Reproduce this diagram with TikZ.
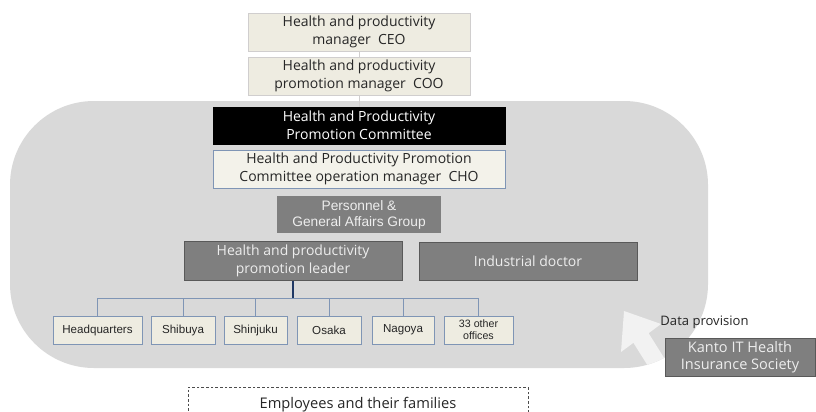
\documentclass[tikz,border=0pt]{standalone}
\usepackage{fontspec}
\setmainfont{Open Sans}
\newfontfamily\arialf{Liberation Sans}
\definecolor{beige}{HTML}{EEECE1}
\definecolor{beigeline}{HTML}{D0CECE}
\definecolor{regiongray}{HTML}{D9D9D9}
\definecolor{boxgray}{HTML}{7F7F7F}
\definecolor{boxgrayline}{HTML}{595959}
\definecolor{bluegray}{HTML}{7F95B5}
\definecolor{navyline}{HTML}{1F3864}
\definecolor{lighttext}{HTML}{EDEDED}
\definecolor{arrowfill}{HTML}{F2F2F2}
\tikzset{
  every node/.style={inner sep=0pt, align=center},
  beigebox/.style={draw=beigeline, fill=beige, line width=0.75pt,
    font=\fontsize{10.5}{13.5}\selectfont, text=black!85},
  blackbox/.style={draw=black, fill=black, text=white,
    font=\fontsize{10.5}{13.5}\selectfont},
  chobox/.style={draw=bluegray, fill=beige!70!white, line width=0.75pt,
    font=\fontsize{10.5}{13.5}\selectfont, text=black!85},
  graybox/.style={draw=boxgrayline, fill=boxgray, line width=0.75pt,
    text=lighttext, font=\fontsize{10.5}{13.5}\selectfont},
  branch/.style={draw=bluegray, fill=beige, line width=0.75pt,
    minimum height=21pt, text=black!85,
    font=\arialf\fontsize{8.7}{9}\selectfont},
  linkgray/.style={draw=beigeline, line width=0.75pt},
  buslink/.style={draw=bluegray, line width=0.75pt},
  dashbox/.style={draw=black!70, dashed, dash pattern=on 2pt off 1.5pt,
    line width=0.5pt, fill=white, font=\fontsize{11}{13.5}\selectfont, text=black!85},
}
\begin{document}
\begin{tikzpicture}[x=0.75pt,y=-0.75pt]
\clip (0,0) rectangle (816,411);
\fill[white] (0,0) rectangle (816,411);
% region
\fill[regiongray, rounded corners=63pt] (10,101) rectangle (708,368);
% arrow
\begin{scope}
\clip[rounded corners=63pt] (10,101) rectangle (708,368);
\fill[arrowfill] (624,311) -- (661,324) -- (648.6,333.2) -- (680.6,384.2)
  -- (665.4,393.8) -- (633.4,342.8) -- (621,352) -- cycle;
\end{scope}
% top boxes
\node[beigebox, minimum width=166.5pt, minimum height=28.5pt] (ceo) at (359,32)
  {Health and productivity\\manager\ \ CEO};
\node[beigebox, minimum width=166.5pt, minimum height=28.5pt] (coo) at (359,76)
  {Health and productivity\\promotion manager\ \ COO};
\node[blackbox, minimum width=219pt, minimum height=27.75pt] (com) at (359,125.5)
  {Health and Productivity\\Promotion Committee};
\node[chobox, minimum width=219pt, minimum height=28.5pt] (cho) at (359,169)
  {Health and Productivity Promotion\\Committee operation manager\ \ CHO};
\node[graybox, draw=none, minimum width=123pt, minimum height=27.75pt,
  font=\arialf\fontsize{10.3}{12}\selectfont] (pga) at (359,214.5)
  {Personnel \&\\General Affairs Group};
\node[graybox, minimum width=163.5pt, minimum height=29pt] (lead) at (293,261)
  {Health and productivity\\promotion leader};
\node[graybox, minimum width=163.5pt, minimum height=28.5pt] (doc) at (528,261)
  {Industrial doctor};
\draw[linkgray] (ceo) -- (coo);
\draw[linkgray] (coo) -- (com);
% branches
\node[branch, minimum width=66.75pt] (hq) at (97.5,330) {Headquarters};
\node[branch, minimum width=48pt] (shb) at (183,330) {Shibuya};
\node[branch, minimum width=47.25pt] (shj) at (255.5,330) {Shinjuku};
\node[branch, minimum width=48pt] (osa) at (329,330) {Osaka};
\node[branch, minimum width=46.5pt] (nag) at (403,330) {Nagoya};
\node[branch, minimum width=51.75pt, font=\arialf\fontsize{8}{9}\selectfont] (oth) at (478.5,330) {33 other\\offices};
\coordinate (bus) at (293,298);
\draw[buslink] (hq.north) -- (hq.north |- bus) -- (oth.north |- bus) -- (oth.north);
\foreach \b in {shb,shj,osa,nag} \draw[buslink] (\b.north) -- (\b.north |- bus);
\draw[draw=navyline, line width=0.9pt] (lead.south) -- (bus);
% external
\node[font=\fontsize{9.8}{11}\selectfont, text=black!85] (dp) at (704.5,322) {Data provision};
\node[graybox, minimum width=112.5pt, minimum height=28.5pt,
  font=\fontsize{10.9}{12.8}\selectfont] (kanto) at (740,357)
  {Kanto IT Health\\Insurance Society};
\node[dashbox, minimum width=255pt, minimum height=27pt] (emp) at (358,405)
  {Employees and their families};
\end{tikzpicture}
\end{document}
